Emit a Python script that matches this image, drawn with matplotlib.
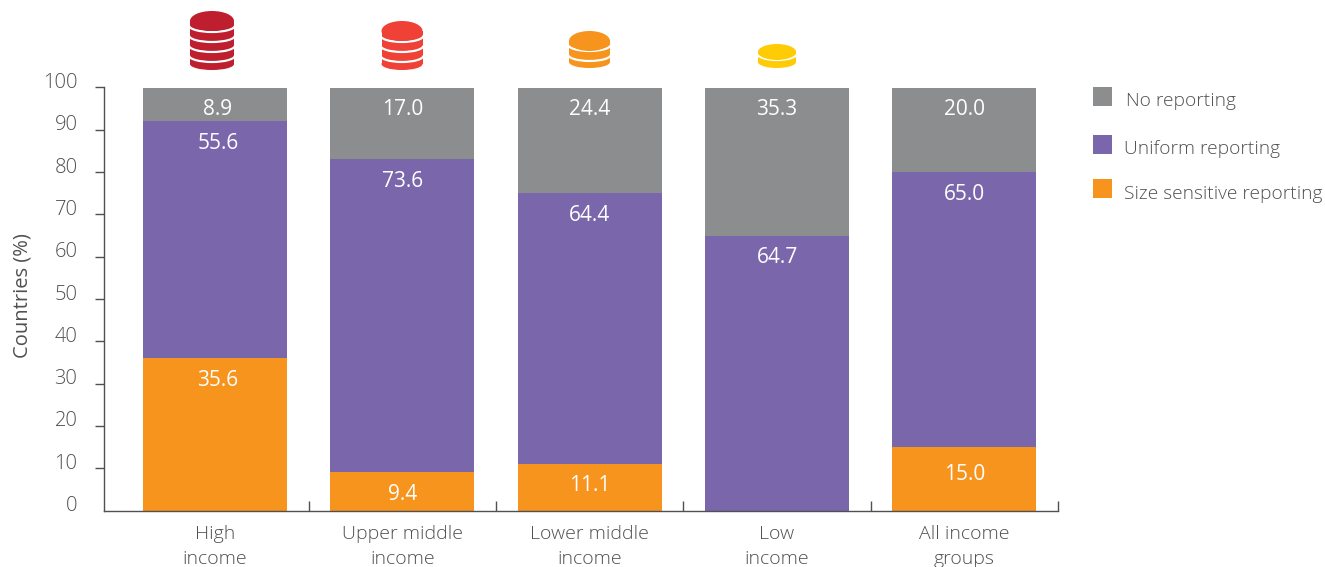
import numpy as np
from matplotlib import pyplot as plt
from matplotlib.patches import Arc, Ellipse, Rectangle
from matplotlib.transforms import ScaledTranslation

categories = ['High\nincome', 'Upper middle\nincome', 'Lower middle\nincome',
              'Low\nincome', 'All income\ngroups']
# printed labels
size_sensitive = [35.6, 9.4, 11.1, 0, 15.0]
uniform = [55.6, 73.6, 64.4, 64.7, 65.0]
no_reporting = [8.9, 17.0, 24.4, 35.3, 20.0]
# the bars in the picture are drawn to whole numbers
size_sensitive_bar = [36, 9, 11, 0, 15]
uniform_bar = [56, 74, 64, 65, 65]
no_reporting_bar = [8, 17, 25, 35, 20]
y_ticks = [0, 10, 20, 30, 40, 50, 60, 70, 80, 90, 100]

GREY = '#8c8d8f'
PURPLE = '#7a67ab'
ORANGE = '#f7941e'
TEXT = '#4f5052'

plt.rcParams['font.family'] = ['Open Sans', 'DejaVu Sans']
plt.rcParams['font.weight'] = 'light'


def px(v):
    return v * 72 / 100


def draw_coins(ax, cx, top, width, ry, lines, bottom, color):
    # solid stack first, then white arcs cut it into discs
    ax.add_patch(Rectangle((cx - width / 2, top + ry), width, bottom - top - ry - 6,
                           color=color, lw=0))
    ax.add_patch(Ellipse((cx, bottom - 6), width, 12, color=color, lw=0))
    for y in lines:
        ax.add_patch(Arc((cx, y - 6.5), width + 2, 13, theta1=0, theta2=180,
                         color='white', lw=px(2.2)))
    ax.add_patch(Ellipse((cx, top + ry), width, 2 * ry, color=color, lw=0))


fig = plt.figure(figsize=(13.25, 5.67), dpi=100)
ax = fig.add_axes([104.5 / 1325, (567 - 510.5) / 567, (1058 - 104.5) / 1325, 423 / 567])

x = np.arange(len(categories))
bottom1 = np.array(size_sensitive_bar)
bottom2 = bottom1 + np.array(uniform_bar)
ax.bar(x, size_sensitive_bar, width=0.769, color=ORANGE)
ax.bar(x, uniform_bar, width=0.769, bottom=bottom1, color=PURPLE)
ax.bar(x, no_reporting_bar, width=0.769, bottom=bottom2, color=GREY)

for i in x:
    shift = px(3) if i == 0 else 0
    segments = ((size_sensitive[i], bottom1[i]), (uniform[i], bottom2[i]),
                (no_reporting[i], bottom2[i] + no_reporting_bar[i]))
    for j, (value, top) in enumerate(segments):
        if value == 0:
            continue
        drop = 27 if (i == 4 and j == 0) else 22
        ax.annotate('{:.1f}'.format(value), xy=(i, top),
                    xytext=(shift, -px(drop)), textcoords='offset points',
                    ha='center', va='center', color='white', fontsize=15,
                    fontweight='normal')

ax.set_xlim(-0.59, 4.5)
ax.set_ylim(0, 100)
ax.set_yticks(y_ticks)
ax.set_xticks(x + 0.5)
ax.set_xticklabels([])
ax.set_xticks(x, minor=True)
ax.set_xticklabels(categories, minor=True, color=TEXT, fontsize=14, linespacing=1.48)
ax.tick_params(axis='x', which='major', direction='in', length=px(10),
               width=1, color=TEXT)
ax.tick_params(axis='x', which='minor', length=0, pad=px(14.5))
ax.tick_params(axis='y', length=px(9), width=1, color=TEXT, pad=px(18),
               labelsize=14.5, labelcolor=TEXT)
ax.yaxis.get_major_ticks()[0].tick1line.set_visible(False)
for label in ax.get_yticklabels():
    label.set_transform(label.get_transform() +
                        ScaledTranslation(0, 0.07, fig.dpi_scale_trans))
ax.set_ylabel('Countries (%)', color=TEXT, fontsize=14.5)
ax.yaxis.set_label_coords(-0.076, 0.508)
ax.spines['top'].set_visible(False)
ax.spines['right'].set_visible(False)
for side in ('left', 'bottom'):
    ax.spines[side].set_color(TEXT)
    ax.spines[side].set_linewidth(1)

# icons and legend sit outside the plot, placed in pixels
over = fig.add_axes([0, 0, 1, 1], facecolor='none')
over.set_xlim(0, 1325)
over.set_ylim(567, 0)
over.axis('off')
draw_coins(over, 212, 11, 44, 10, [32, 42, 52, 62], 70, '#be1e2d')
draw_coins(over, 402, 21, 41, 10, [42, 52, 62], 70, '#ef4136')
draw_coins(over, 589.5, 31, 41, 10, [51, 61], 68, ORANGE)
draw_coins(over, 777, 44, 38, 8, [60], 68, '#ffcb05')

legend_labels = ['No reporting', 'Uniform reporting', 'Size sensitive reporting']
legend_colors = [GREY, PURPLE, ORANGE]
legend_box_y = [87, 135, 179]
legend_text_x = [1126, 1124, 1124]
legend_text_y = [101, 149, 194]
for name, col, by, tx, ty in zip(legend_labels, legend_colors, legend_box_y,
                                 legend_text_x, legend_text_y):
    over.add_patch(Rectangle((1093, by), 19, 19, color=col, lw=0))
    over.text(tx, ty, name, color=TEXT, fontsize=13.75, va='center', ha='left')

fig.savefig('out.png', dpi=100)
